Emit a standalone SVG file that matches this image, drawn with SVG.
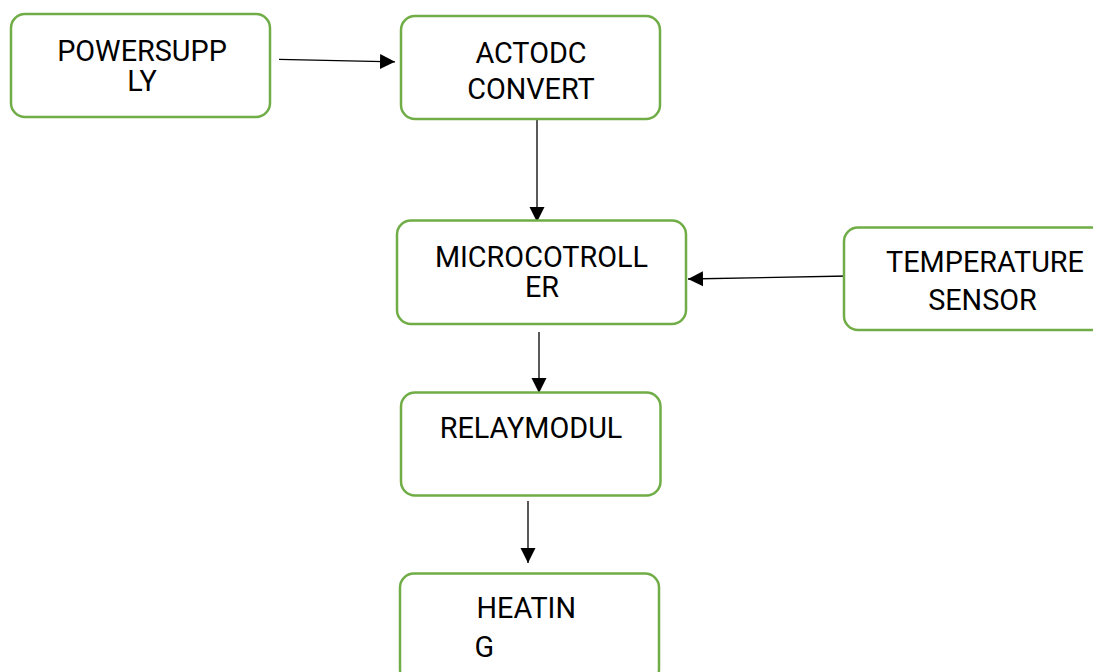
<svg xmlns="http://www.w3.org/2000/svg" width="1093" height="672" viewBox="0 0 1093 672">
<defs>
<style>
.box{fill:#fff;stroke:#70AD47;stroke-width:2.5}
.t{font-family:Roboto,"Liberation Sans",sans-serif;font-size:28.8px;fill:#000}
.c{text-anchor:middle}
.e{stroke:#000;stroke-width:1.3;fill:none;marker-end:url(#ah)}
</style>
<marker id="ah" markerUnits="userSpaceOnUse" markerWidth="16" markerHeight="16" viewBox="0 0 16 16" refX="15" refY="8" orient="auto">
<path d="M0,0.5 L15,8 L0,15.5 Z" fill="#000"/>
</marker>
</defs>
<rect width="1093" height="672" fill="#fff"/>
<g id="connectors">
<line class="e" x1="279" y1="59.3" x2="395" y2="61.8"/>
<line class="e" x1="537" y1="117" x2="537" y2="222"/>
<line class="e" x1="848" y1="276" x2="688" y2="279"/>
<line class="e" x1="539" y1="332" x2="539" y2="393"/>
<line class="e" x1="528" y1="501" x2="528" y2="563"/>
</g>
<g id="power-supply">
<rect class="box" x="11" y="14" width="259" height="103" rx="14"/>
<text class="t c" x="142" y="60.5">POWERSUPP</text>
<text class="t c" x="142" y="90.5">LY</text>
</g>
<g id="ac-dc">
<rect class="box" x="401" y="16" width="259" height="103" rx="14"/>
<text class="t c" x="531" y="63">ACTODC</text>
<text class="t c" x="531" y="99">CONVERT</text>
</g>
<g id="microcontroller">
<rect class="box" x="397" y="220.5" width="289" height="103.5" rx="14"/>
<text class="t c" x="541.5" y="267">MICROCOTROLL</text>
<text class="t c" x="542" y="297">ER</text>
</g>
<g id="temperature-sensor">
<rect class="box" x="844" y="227.5" width="262" height="102.5" rx="14"/>
<text class="t c" x="985" y="272">TEMPERATURE</text>
<text class="t c" x="982.5" y="310">SENSOR</text>
</g>
<g id="relay-module">
<rect class="box" x="401" y="392.5" width="259.5" height="103" rx="14"/>
<text class="t c" x="531" y="438">RELAYMODUL</text>
</g>
<g id="heating">
<rect class="box" x="400" y="573.5" width="259" height="110" rx="14"/>
<text class="t" x="476.5" y="618">HEATIN</text>
<text class="t" x="474.5" y="656.5">G</text>
</g>
</svg>
